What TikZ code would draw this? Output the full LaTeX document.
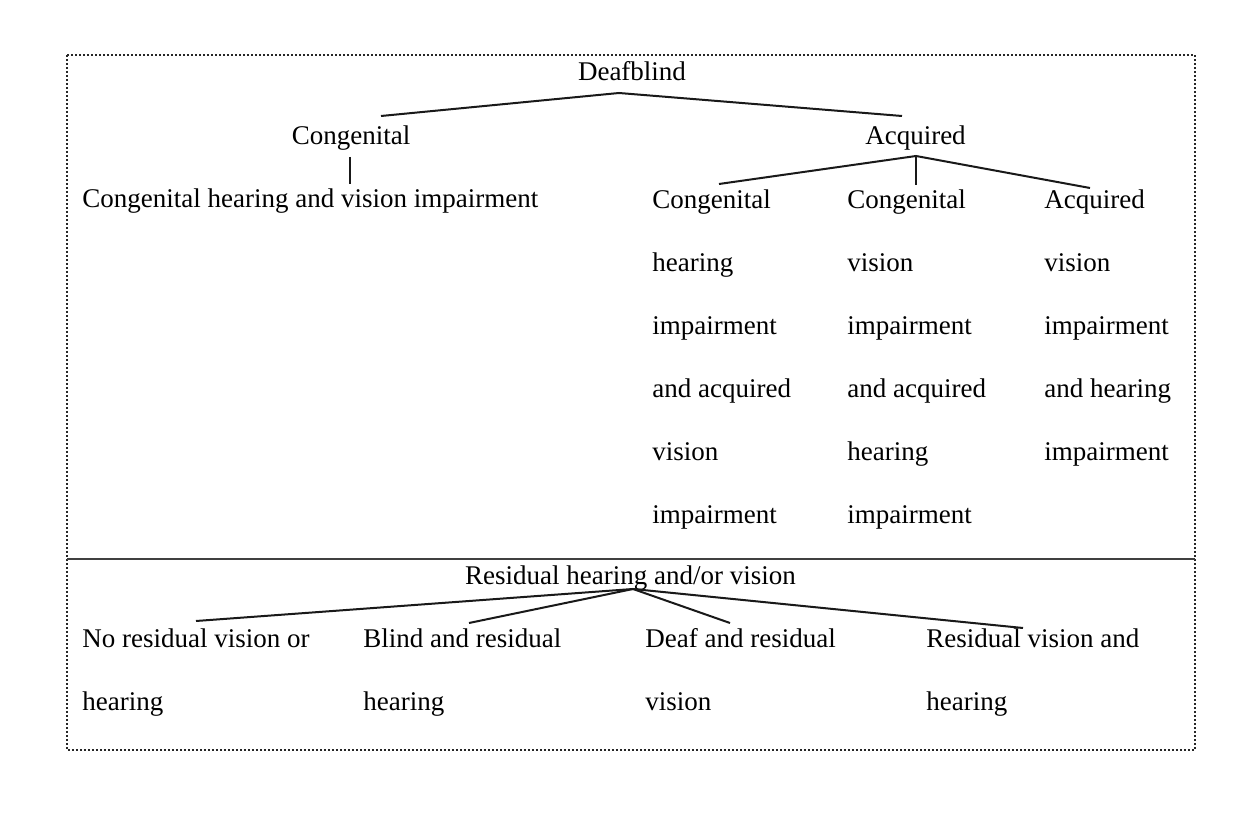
\documentclass[tikz,border=0pt]{standalone}
\usepackage{fontspec}
\setmainfont{Liberation Serif}
\begin{document}
\begin{tikzpicture}[x=0.5pt,y=-0.5pt,
  lbl/.style={inner sep=0pt, font=\fontsize{13.5}{31.5}\selectfont, text=black},
  col/.style={lbl, align=left, anchor=north west},
  conn/.style={line width=1pt, black!90},
  framebox/.style={line width=1pt, black!85, dash pattern=on 0.8pt off 1.2pt},
  sepline/.style={line width=1pt, black!75}]
\useasboundingbox (0,0) rectangle (1259,823);

% frame and separator
\draw[framebox] (67,55) rectangle (1195,750);
\coordinate (sepL) at (67,559);
\coordinate (sepR) at (1195,559);
\draw[sepline] (sepL) -- (sepR);

% upper tree
\node[lbl, anchor=base] (db) at (632,81) {Deafblind};
\node[lbl, anchor=base] (cong) at (351,145) {Congenital};
\node[lbl, anchor=base] (acq) at (915.5,145) {Acquired};
\node[lbl, anchor=base west] (chv) at (82,208) {Congenital hearing and vision impairment};
\node[col] (c1) at (652,163.9) {\strut Congenital\\hearing\\impairment\\and acquired\\vision\\impairment};
\node[col] (c2) at (847,163.9) {\strut Congenital\\vision\\impairment\\and acquired\\hearing\\impairment};
\node[col] (c3) at (1044,163.9) {\strut Acquired\\vision\\impairment\\and hearing\\impairment};

\coordinate (dbA) at (619,93);
\coordinate (dbL) at (381,116);
\coordinate (dbR) at (902,116);
\draw[conn] (dbL) -- (dbA) -- (dbR);

\coordinate (congT) at (350,157);
\coordinate (congB) at (350,184);
\draw[conn] (congT) -- (congB);

\coordinate (acqA) at (916,156);
\coordinate (acqL) at (719,184);
\coordinate (acqM) at (916,185);
\coordinate (acqR) at (1090,188);
\draw[conn] (acqL) -- (acqA) -- (acqR);
\draw[conn] (acqA) -- (acqM);

% lower tree
\node[lbl, anchor=base] (res) at (630.5,585) {Residual hearing and/or vision};
\node[col] (r1) at (82,602.9) {\strut No residual vision or\\hearing};
\node[col] (r2) at (363,602.9) {\strut Blind and residual\\hearing};
\node[col] (r3) at (645,602.9) {\strut Deaf and residual\\vision};
\node[col] (r4) at (926,602.9) {\strut Residual vision and\\hearing};

\coordinate (resA) at (633,589);
\coordinate (resL) at (196,621);
\coordinate (resB) at (469,623);
\coordinate (resD) at (730,623);
\coordinate (resR) at (1023,628);
\draw[conn] (resL) -- (resA) -- (resR);
\draw[conn] (resB) -- (resA) -- (resD);
\end{tikzpicture}
\end{document}
